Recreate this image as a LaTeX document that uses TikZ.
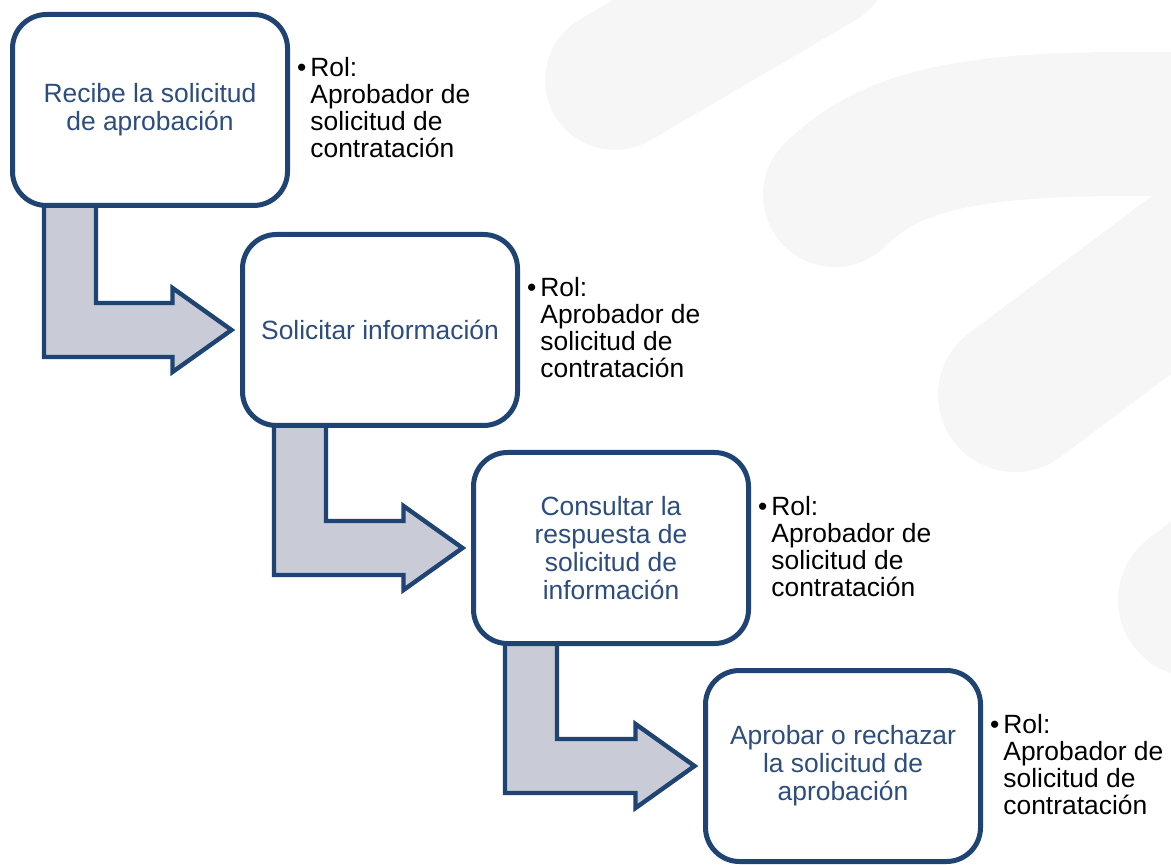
\documentclass[tikz,border=0pt]{standalone}
\usepackage{fontspec}
\setmainfont{Liberation Sans}
\usepackage{tikz}
\usetikzlibrary{calc,positioning,backgrounds}
\definecolor{marino}{HTML}{1F4373}
\definecolor{azultexto}{HTML}{2C4D7E}
\definecolor{grisflecha}{HTML}{C9CCD6}
\definecolor{grisfondo}{HTML}{F6F6F6}

\begin{document}
\begin{tikzpicture}[x=0.5pt,y=0.5pt,
		paso/.style={draw=marino,line width=2.5pt,fill=white,rounded corners=17pt,minimum width=137.5pt,minimum height=95.5pt,inner sep=0pt,outer sep=0pt,align=center,text=azultexto,font=\fontsize{13.2}{14}\selectfont},
		rol/.style={anchor=base west,align=left,inner sep=0pt,font=\fontsize{13.2}{13.5}\selectfont},
		flecha/.style={draw=marino,line width=2.2pt,fill=grisflecha},
		fondo/.style={draw=grisfondo,line cap=round}]
		\useasboundingbox (0,0) rectangle (1171,-865);
		\clip (0,0) rectangle (1171,-865);
		\node[paso](1) at (150,-110) {Recibe la solicitud\\de aprobación};
		\node[paso](2) at ($(1)+(230,-220)$) {Solicitar información};
		\node[paso](3) at ($(2)+(231,-218)$) {Consultar la\\respuesta de\\solicitud de\\información};
		\node[paso](4) at ($(3)+(232,-218)$) {Aprobar o rechazar\\la solicitud de\\aprobación};
		\foreach \n in {1,...,4}
			\node[rol](r\n) at ($(\n.north east)+(22.5,-143.5)$) {\llap{\textbullet\hspace{2pt}}Rol:\\Aprobador de\\solicitud de\\contratación};
		\begin{scope}[on background layer]
			\draw[fondo,line width=70pt] (615,-80) -- (820,40);
			\draw[fondo,line width=72pt] (835,-195) .. controls (900,-130) and (1000,-120) .. (1220,-125);
			\draw[fondo,line width=77pt] (1015,-395) -- (1300,-181);
			\draw[fondo,line width=77pt] (1195,-600) -- (1350,-480);
			\foreach \a/\b in {1/2,2/3,3/4}
				\draw[flecha] ($(\a.south west)+(31.5,5)$) |- ($(\b.west)+(-70,-27)$) -- ++(0,-15) -- ($(\b.west)+(-11,0)$) -- ($(\b.west)+(-70,42)$) -- ++(0,-15) -| ($(\a.south west)+(83.5,5)$) -- cycle;
		\end{scope}
	\end{tikzpicture}
\end{document}
